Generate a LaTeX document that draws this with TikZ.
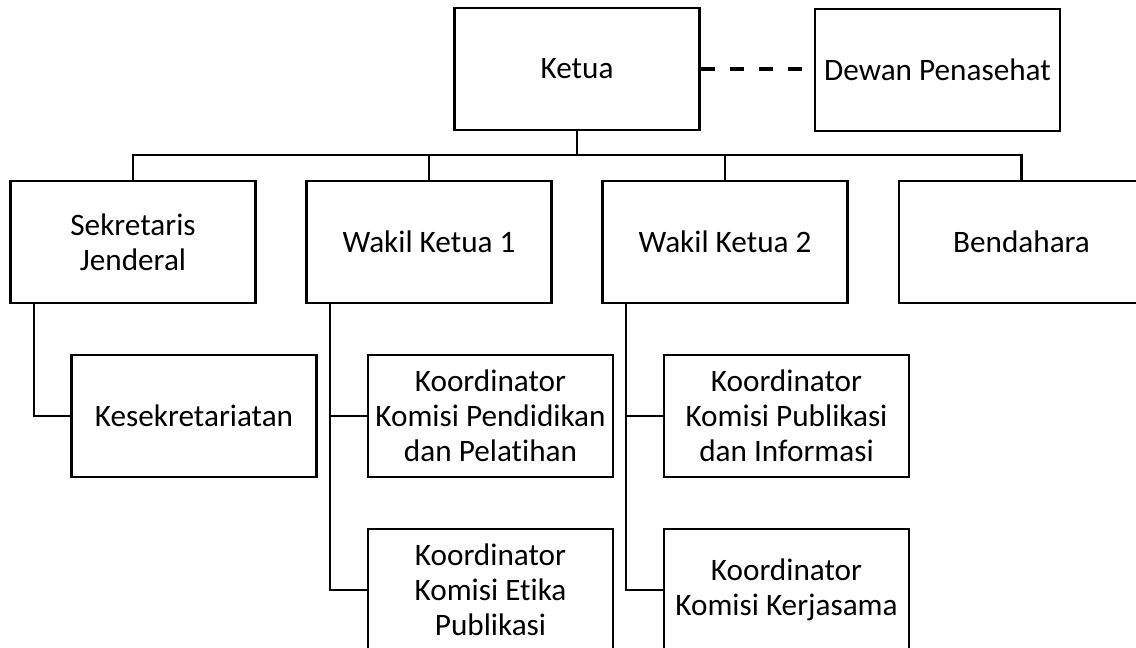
\documentclass[tikz,border=0pt]{standalone}
\usepackage{fontspec}
\setmainfont{Carlito}[Ligatures=NoCommon]
\usetikzlibrary{calc}

\tikzset{
  box/.style={draw, rectangle, minimum width=6.125cm, minimum height=3.05cm,
    inner sep=0pt, align=center, font=\fontsize{22.2}{25}\selectfont},
}

\begin{document}
\begin{tikzpicture}[x=0.025cm, y=-0.025cm, line width=1.5pt]

  % Cornice
  \useasboundingbox (0,0) rectangle (1136,648);
  \clip (0,0) rectangle (1136,648);

  % Ketua e Dewan Penasehat
  \node[box] (K) at (577,69) {Ketua};
  \node[box] (DP) at (937.5,70) {Dewan Penasehat};
  \draw[line width=2.85pt, dash pattern=on 0.3625cm off 0.3625cm] (K.east) -- (K.east -| DP.west);

  % Secondo livello
  \coordinate (bus) at (0,155);
  \node[box] (SJ) at (133,242) {Sekretaris\\Jenderal};
  \node[box] (WK1) at (429,242) {Wakil Ketua 1};
  \node[box] (WK2) at (725,242) {Wakil Ketua 2};
  \node[box] (B) at (1021.5,242) {Bendahara};

  \draw (K.south) -- (K |- bus);
  \draw (SJ.north) -- (SJ |- bus) -- (B |- bus) -- (B.north);
  \draw (WK1.north) -- (WK1 |- bus);
  \draw (WK2.north) -- (WK2 |- bus);

  % Terzo livello
  \node[box] (KS) at (194,416) {Kesekretariatan};
  \node[box] (KP) at (490.5,416) {Koordinator\\Komisi Pendidikan\\dan Pelatihan};
  \node[box] (KE) at (490.5,590) {Koordinator\\Komisi Etika\\Publikasi};
  \node[box] (KPI) at (786.5,416) {Koordinator\\Komisi Publikasi\\dan Informasi};
  \node[box] (KK) at (786.5,590) {Koordinator\\Komisi Kerjasama};

  % Collegamenti
  \coordinate (S1) at ($(SJ.south west)+(25,0)$);
  \coordinate (W1) at ($(WK1.south west)+(25,0)$);
  \coordinate (W2) at ($(WK2.south west)+(25,0)$);

  \draw (S1) |- (KS.west);
  \draw (W1) |- (KE.west);
  \draw (W1 |- KP.west) -- (KP.west);
  \draw (W2) |- (KK.west);
  \draw (W2 |- KPI.west) -- (KPI.west);
\end{tikzpicture}
\end{document}
